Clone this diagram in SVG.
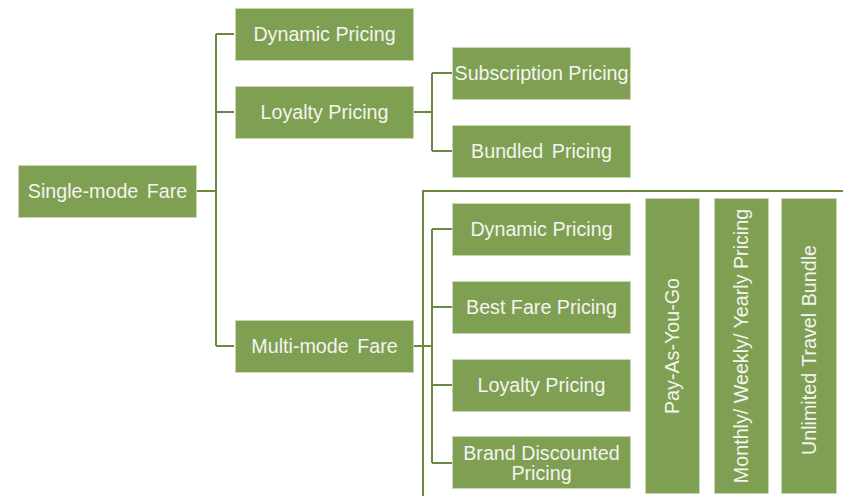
<svg xmlns="http://www.w3.org/2000/svg" width="843" height="496" viewBox="0 0 843 496">
<style>
.box{fill:#7f9f53;stroke:#c9d8b0;stroke-width:1}
.t{fill:#f3f5ee;font-family:"Liberation Sans",Arial,sans-serif;font-size:19.7px;text-anchor:middle;dominant-baseline:central}
.c{fill:none;stroke:#6a8a40;stroke-width:2}
</style>
<rect width="843" height="496" fill="#ffffff"/>
<g id="connectors">
<path class="c" d="M196 191H216M216 34V346M216 34H234M216 112H234M216 346H234"/>
<path class="c" d="M414 112H432M432 73V151M432 73H452M432 151H452"/>
<path class="c" d="M423 496V191H843"/>
<path class="c" d="M414 346H432M432 229V463M432 229H452M432 307H452M432 385H452M432 463H452"/>
</g>
<g id="single"><rect class="box" x="18.5" y="165.5" width="178" height="52"/><text class="t" x="107.5" y="191" word-spacing="3">Single-mode Fare</text></g>
<g id="dyn1"><rect class="box" x="235.5" y="8.5" width="178" height="52"/><text class="t" x="324.5" y="34">Dynamic Pricing</text></g>
<g id="loy1"><rect class="box" x="235.5" y="86.5" width="178" height="52"/><text class="t" x="324.5" y="112">Loyalty Pricing</text></g>
<g id="multi"><rect class="box" x="235.5" y="320.5" width="178" height="52"/><text class="t" x="324.5" y="346" word-spacing="3">Multi-mode Fare</text></g>
<g id="sub"><rect class="box" x="452.5" y="47.5" width="178" height="52"/><text class="t" x="541.5" y="73">Subscription Pricing</text></g>
<g id="bund"><rect class="box" x="452.5" y="125.5" width="178" height="52"/><text class="t" x="541.5" y="151" word-spacing="3">Bundled Pricing</text></g>
<g id="dyn2"><rect class="box" x="452.5" y="203.5" width="178" height="52"/><text class="t" x="541.5" y="229">Dynamic Pricing</text></g>
<g id="best"><rect class="box" x="452.5" y="281.5" width="178" height="52"/><text class="t" x="541.5" y="307">Best Fare Pricing</text></g>
<g id="loy2"><rect class="box" x="452.5" y="359.5" width="178" height="52"/><text class="t" x="541.5" y="385">Loyalty Pricing</text></g>
<g id="brand"><rect class="box" x="452.5" y="436.5" width="178" height="52"/><text class="t" x="541.5" y="453">Brand Discounted</text><text class="t" x="541.5" y="473">Pricing</text></g>
<g id="payg"><rect class="box" x="645.5" y="198.5" width="54" height="295"/><text class="t" transform="translate(672 346) rotate(-90)">Pay-As-You-Go</text></g>
<g id="monthly"><rect class="box" x="714.5" y="198.5" width="54" height="295"/><text class="t" transform="translate(741 346) rotate(-90)">Monthly/ Weekly/ Yearly Pricing</text></g>
<g id="unlim"><rect class="box" x="781.5" y="198.5" width="55" height="295"/><text class="t" transform="translate(809 350) rotate(-90)" word-spacing="1">Unlimited Travel Bundle</text></g>
</svg>
